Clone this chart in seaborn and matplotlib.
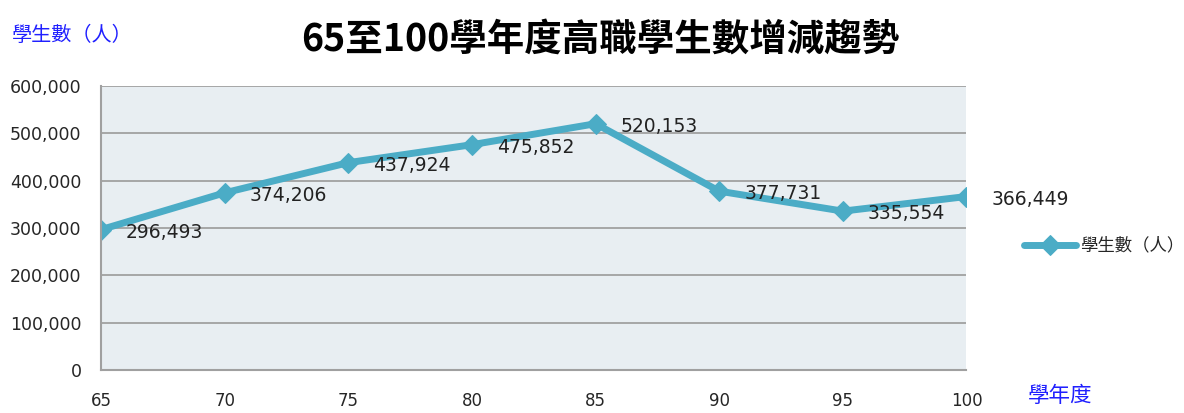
import numpy as np
import pandas as pd
import matplotlib
matplotlib.use('Agg')
import matplotlib.pyplot as plt
import seaborn as sns

years = [65, 70, 75, 80, 85, 90, 95, 100]
students = [296493, 374206, 437924, 475852, 520153, 377731, 335554, 366449]
yticks = [0, 100000, 200000, 300000, 400000, 500000, 600000]

df = pd.DataFrame({'year': years, 'students': students})

sns.set_style('white')
plt.rcParams['font.family'] = ['Noto Sans CJK TC', 'DejaVu Sans']

fig = plt.figure(figsize=(11.84, 4.13), dpi=100)
ax = fig.add_axes([0.0853, 0.104, 0.731, 0.688])
ax.set_facecolor('#E8EEF2')

line_color = '#4BACC6'
sns.lineplot(data=df, x='year', y='students', ax=ax, color=line_color, lw=5,
             marker='D', markersize=10, markeredgecolor=line_color,
             label='學生數（人）', legend=False)

for x, y in zip(years, students):
    ax.annotate(f'{y:,}', (x, y), xytext=(18, -2), textcoords='offset points',
                ha='left', va='center', fontsize=13.5, color='#222222',
                family='DejaVu Sans')

ax.set_xlim(65, 100)
ax.set_ylim(0, 600000)
ax.set_xticks(years)
ax.set_yticks(yticks)
ax.set_xticklabels([str(y) for y in years], family='DejaVu Sans', fontsize=12)
ax.set_yticklabels([f'{v:,}' for v in yticks], family='DejaVu Sans', fontsize=12.5)
ax.tick_params(axis='x', length=0, pad=16)
ax.tick_params(axis='y', length=0, pad=14)
ax.grid(axis='y', color='#9a9a9a', lw=1.2)
ax.set_axisbelow(True)
for s in ['top', 'right']:
    ax.spines[s].set_visible(False)
for s in ['left', 'bottom']:
    ax.spines[s].set_color('#a0a0a0')
    ax.spines[s].set_linewidth(1.5)
ax.set_xlabel('')
ax.set_ylabel('')

fig.text(0.507, 0.905, '65至100學年度高職學生數增減趨勢', ha='center', va='center',
         fontsize=27, fontweight='bold', color='black')
fig.text(0.010, 0.915, '學生數（人）', ha='left', va='center', fontsize=14.5, color='#2020ff')
fig.text(0.868, 0.042, '學年度', ha='left', va='center', fontsize=15.5, color='#2020ff')

handles, labels = ax.get_legend_handles_labels()
fig.legend(handles, labels, loc='center left', bbox_to_anchor=(0.852, 0.405),
           frameon=False, fontsize=12.5, handlelength=3, handletextpad=0.2)

fig.savefig('out.png', dpi=100)
